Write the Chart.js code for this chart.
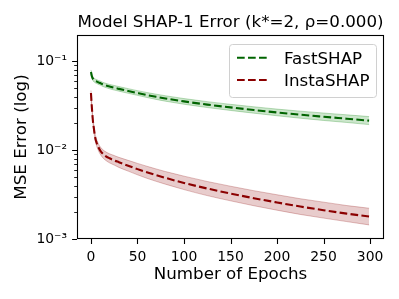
<!DOCTYPE html>
<html>
<head>
<meta charset="utf-8">
<script src="https://cdn.jsdelivr.net/npm/chart.js@4.4.1/dist/chart.umd.min.js"></script>
<style>
    html, body { margin: 0; padding: 0; background: #fff; }
    #wrap { width: 399px; height: 299px; }
</style>
</head>
<body>
<div id="wrap"><canvas id="errorChart" width="399" height="299"></canvas></div>
<script>
// Data
const epochs = [0, 1, 2, 3, 4, 5, 6, 8, 10, 12, 15, 20, 25, 30, 40, 50, 60, 70, 80, 100, 125, 150, 175, 200, 225, 250, 275, 299];

const fastMean  = [0.076, 0.068, 0.064, 0.062, 0.061, 0.060, 0.0595, 0.058, 0.057, 0.0555, 0.054, 0.052, 0.0504, 0.0490, 0.0464, 0.0440, 0.0418, 0.0399, 0.0382, 0.0354, 0.0326, 0.0303, 0.0283, 0.0266, 0.0251, 0.0238, 0.0226, 0.0215];
const fastUpper = [0.080, 0.072, 0.067, 0.065, 0.064, 0.063, 0.0625, 0.061, 0.060, 0.0585, 0.057, 0.055, 0.0535, 0.0520, 0.0493, 0.0468, 0.0446, 0.0427, 0.0410, 0.0381, 0.0352, 0.0328, 0.0308, 0.0290, 0.0275, 0.0262, 0.0250, 0.0239];
const fastLower = [0.072, 0.064, 0.061, 0.059, 0.058, 0.057, 0.0565, 0.055, 0.054, 0.0526, 0.0511, 0.0491, 0.0475, 0.0462, 0.0437, 0.0414, 0.0392, 0.0373, 0.0356, 0.0329, 0.0302, 0.0280, 0.0261, 0.0244, 0.0229, 0.0216, 0.0205, 0.0194];

const instaMean  = [0.044, 0.030, 0.022, 0.018, 0.015, 0.0132, 0.0122, 0.0108, 0.0099, 0.0093, 0.0087, 0.0081, 0.00768, 0.00733, 0.00668, 0.00612, 0.00565, 0.00524, 0.00488, 0.00428, 0.00370, 0.00325, 0.00288, 0.00258, 0.00232, 0.00211, 0.00193, 0.00179];
const instaUpper = [0.047, 0.032, 0.0235, 0.0193, 0.0162, 0.0143, 0.0133, 0.0118, 0.0109, 0.0103, 0.0097, 0.0091, 0.0087, 0.0083, 0.00768, 0.0071, 0.0066, 0.00615, 0.00575, 0.0051, 0.00444, 0.00393, 0.00350, 0.00315, 0.00284, 0.00260, 0.00238, 0.00222];
const instaLower = [0.041, 0.028, 0.0205, 0.0167, 0.0139, 0.0122, 0.0112, 0.0099, 0.0090, 0.0084, 0.0078, 0.0072, 0.0068, 0.0064, 0.00581, 0.00528, 0.00483, 0.00446, 0.00414, 0.0036, 0.00308, 0.00269, 0.00237, 0.00211, 0.00189, 0.00172, 0.00157, 0.00144];

const seriesNames = ['FastSHAP', 'InstaSHAP'];
const xTickValues = [0, 50, 100, 150, 200, 250, 300];
const yMajorTicks = [1e-3, 1e-2, 1e-1];
const yMinorTicks = [2e-3, 3e-3, 4e-3, 5e-3, 6e-3, 7e-3, 8e-3, 9e-3, 2e-2, 3e-2, 4e-2, 5e-2, 6e-2, 7e-2, 8e-2, 9e-2];

const chartTitle = 'Model SHAP-1 Error (k*=2, \u03c1=0.000)';
const xTitle = 'Number of Epochs';
const yTitle = 'MSE Error (log)';

const FONT = "'DejaVu Sans', 'Liberation Sans', sans-serif";
const supDigits = { '-': '\u207b', '1': '\u00b9', '2': '\u00b2', '3': '\u00b3' };

function toPoints(values) {
    return epochs.map((e, i) => ({ x: e, y: values[i] }));
}

function powLabel(v) {
    const p = String(Math.round(Math.log10(v)));
    return '10' + p.split('').map(c => supDigits[c] || c).join('');
}

// frame, tick marks, title and legend in matplotlib style
const decorations = {
    id: 'decorations',
    afterDraw(chart) {
        const ctx = chart.ctx;
        const area = chart.chartArea;
        const xs = chart.scales.x;
        const ys = chart.scales.y;
        ctx.save();

        // tick marks
        ctx.strokeStyle = '#000';
        ctx.lineWidth = 1.1;
        ctx.beginPath();
        xTickValues.forEach(v => {
            const px = Math.round(xs.getPixelForValue(v)) + 0.5;
            ctx.moveTo(px, area.bottom);
            ctx.lineTo(px, area.bottom + 4.9);
        });
        yMajorTicks.forEach(v => {
            const py = Math.round(ys.getPixelForValue(v)) + 0.5;
            ctx.moveTo(area.left, py);
            ctx.lineTo(area.left - 4.9, py);
        });
        ctx.stroke();
        ctx.lineWidth = 0.85;
        ctx.beginPath();
        yMinorTicks.forEach(v => {
            const py = Math.round(ys.getPixelForValue(v)) + 0.5;
            ctx.moveTo(area.left, py);
            ctx.lineTo(area.left - 2.8, py);
        });
        ctx.stroke();

        // frame
        ctx.lineWidth = 1.1;
        ctx.strokeStyle = '#000';
        ctx.strokeRect(area.left + 0.5, area.top + 0.5, area.right - area.left - 1, area.bottom - area.top - 1);

        // title
        ctx.fillStyle = '#000';
        ctx.font = '16.7px ' + FONT;
        ctx.textAlign = 'center';
        ctx.textBaseline = 'alphabetic';
        ctx.fillText(chartTitle, (area.left + area.right) / 2, 27);

        // legend
        const boxW = 147, boxH = 53;
        const bx = area.right - 8 - boxW;
        const by = area.top + 9;
        ctx.beginPath();
        ctx.roundRect(bx + 0.5, by + 0.5, boxW, boxH, 3);
        ctx.fillStyle = 'rgba(255,255,255,0.8)';
        ctx.fill();
        ctx.strokeStyle = '#d0d0d0';
        ctx.lineWidth = 1;
        ctx.stroke();

        seriesNames.forEach((name, i) => {
            const ds = chart.data.datasets[i];
            const cy = by + 13.7 + i * 22.3;
            ctx.beginPath();
            ctx.setLineDash(ds.borderDash);
            ctx.strokeStyle = ds.borderColor;
            ctx.lineWidth = ds.borderWidth;
            ctx.moveTo(bx + 8, cy);
            ctx.lineTo(bx + 38, cy);
            ctx.stroke();
            ctx.setLineDash([]);
            ctx.fillStyle = '#000';
            ctx.font = '16.7px ' + FONT;
            ctx.textAlign = 'left';
            ctx.textBaseline = 'alphabetic';
            ctx.fillText(name, bx + 55, cy + 6.1);
        });

        ctx.restore();
    }
};

const lineStyle = {
    borderWidth: 2.1,
    borderDash: [7.7, 3.3],
    pointRadius: 0,
    fill: false,
    cubicInterpolationMode: 'monotone'
};

const bandStyle = {
    borderWidth: 1,
    pointRadius: 0,
    cubicInterpolationMode: 'monotone'
};

new Chart(document.getElementById('errorChart'), {
    type: 'line',
    data: {
        datasets: [
            { ...lineStyle, label: seriesNames[0], data: toPoints(fastMean), borderColor: '#006400' },
            { ...lineStyle, label: seriesNames[1], data: toPoints(instaMean), borderColor: '#8b0000' },
            { ...bandStyle, label: 'fast-lo', data: toPoints(fastLower), borderColor: 'rgba(0,128,0,0.25)', fill: false },
            { ...bandStyle, label: 'fast-hi', data: toPoints(fastUpper), borderColor: 'rgba(0,128,0,0.25)', backgroundColor: 'rgba(0,128,0,0.2)', fill: '-1' },
            { ...bandStyle, label: 'insta-lo', data: toPoints(instaLower), borderColor: 'rgba(139,0,0,0.25)', fill: false },
            { ...bandStyle, label: 'insta-hi', data: toPoints(instaUpper), borderColor: 'rgba(139,0,0,0.25)', backgroundColor: 'rgba(139,0,0,0.2)', fill: '-1' }
        ]
    },
    options: {
        responsive: false,
        animation: false,
        layout: { padding: { top: 35, right: 15, left: 0, bottom: 0 } },
        plugins: {
            legend: { display: false },
            tooltip: { enabled: false },
            title: { display: false }
        },
        scales: {
            x: {
                type: 'linear',
                min: -15,
                max: 315,
                grid: { display: false, drawTicks: false },
                border: { display: false },
                afterBuildTicks: s => { s.ticks = xTickValues.map(v => ({ value: v })); },
                afterFit: s => { s.height = 60; },
                ticks: {
                    color: '#000',
                    padding: 10,
                    maxRotation: 0,
                    font: { family: FONT, size: 13.9 }
                },
                title: {
                    display: true,
                    text: xTitle,
                    color: '#000',
                    padding: { top: 0, bottom: 14 },
                    font: { family: FONT, size: 16.7 }
                }
            },
            y: {
                type: 'logarithmic',
                min: 0.001,
                max: 0.198,
                grid: { display: false, drawTicks: false },
                border: { display: false },
                afterBuildTicks: s => { s.ticks = yMajorTicks.map(v => ({ value: v, major: true })); },
                afterFit: s => { s.width = 77; },
                ticks: {
                    color: '#000',
                    padding: 10,
                    font: { family: FONT, size: 13.9 },
                    callback: v => powLabel(v)
                },
                title: {
                    display: true,
                    text: yTitle,
                    color: '#000',
                    padding: { top: 12, bottom: 0 },
                    font: { family: FONT, size: 16.7 }
                }
            }
        }
    },
    plugins: [decorations]
});
</script>
</body>
</html>
